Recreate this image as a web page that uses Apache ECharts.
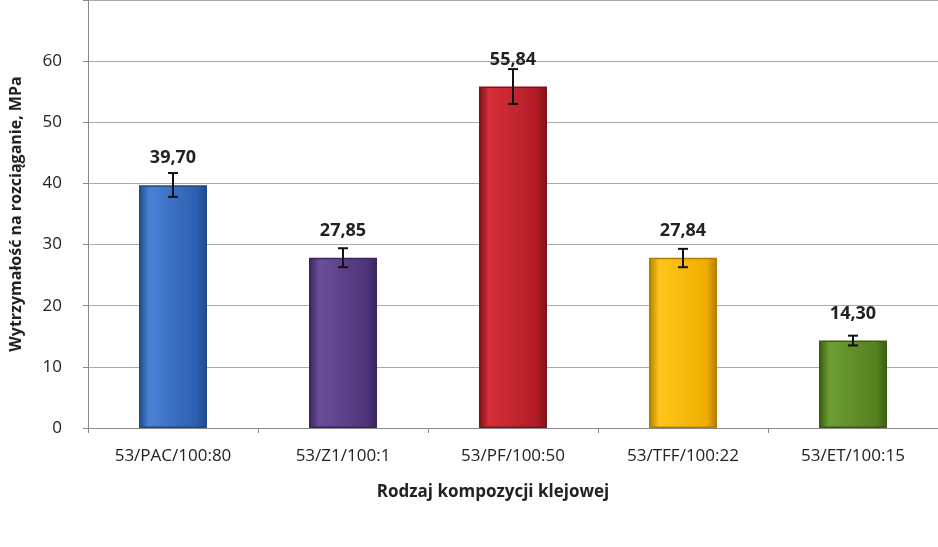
<!DOCTYPE html><html><head><meta charset="utf-8"><script src="https://cdn.jsdelivr.net/npm/echarts@6/dist/echarts.min.js"></script></head><body style="margin:0;background:#fff"><div id="c" style="width:938px;height:547px"></div><script>
const categories=['53/PAC/100:80','53/Z1/100:1','53/PF/100:50','53/TFF/100:22','53/ET/100:15'];
const values=[39.70,27.85,55.84,27.84,14.30];
const errLow=[37.8,26.3,53.0,26.3,13.5];
const errHigh=[41.7,29.4,58.7,29.3,15.1];
const colors=[['#4a82d6','#2c5fae','#1f4a8a'],['#6a4f9a','#4e3478','#3a2460'],['#d6303a','#b01c26','#80121a'],['#ffc61a','#f0ad00','#b07e00'],['#6e9d35','#54801f','#3a5c12']];
const chart=echarts.init(document.getElementById('c'));
chart.setOption({
 animation:false,
 grid:{left:85,right:-2,top:-14,bottom:119},
 xAxis:{type:'category',data:categories,axisLine:{lineStyle:{color:'#888'}},axisTick:{show:true,lineStyle:{color:'#888'}},
  axisLabel:{color:'#222',fontSize:17,fontFamily:'Open Sans',margin:20},
  name:'Rodzaj kompozycji klejowej',nameLocation:'middle',nameGap:56,nameTextStyle:{fontWeight:'bold',fontSize:17,color:'#222',fontFamily:'Open Sans',padding:[0,0,0,-40]}},
 yAxis:{type:'value',min:0,max:70,interval:10,axisLine:{show:true,lineStyle:{color:'#888'}},axisTick:{show:true,lineStyle:{color:'#888'}},
  splitLine:{lineStyle:{color:'#aaa'}},axisLabel:{color:'#222',fontSize:17,fontFamily:'Open Sans',margin:26,formatter:v=>v==70?'':v},
  name:'Wytrzymałość na rozciąganie, MPa',nameLocation:'middle',nameGap:64,nameTextStyle:{fontWeight:'bold',fontSize:16,color:'#222',fontFamily:'Open Sans'}},
 series:[{type:'bar',barWidth:68,data:values.map((v,i)=>({value:v,itemStyle:{borderColor:colors[i][2],borderWidth:1.5,color:{type:'linear',x:0,y:0,x2:1,y2:0,colorStops:[{offset:0,color:colors[i][2]},{offset:0.15,color:colors[i][0]},{offset:0.85,color:colors[i][1]},{offset:1,color:colors[i][2]}]}}})),
  label:{show:true,position:'top',distance:18,fontWeight:'bold',fontSize:18,color:'#222',fontFamily:'Open Sans',formatter:p=>p.value.toFixed(2).replace('.',',')}},
 {type:'custom',data:values.map((v,i)=>[i,errLow[i],errHigh[i]]),z:10,renderItem:(params,api)=>{
   const lo=api.coord([api.value(0),api.value(1)]),hi=api.coord([api.value(0),api.value(2)]);const w=5;
   const s={stroke:'#111',lineWidth:2};
   return {type:'group',children:[{type:'line',shape:{x1:lo[0],y1:lo[1],x2:hi[0],y2:hi[1]},style:s},{type:'line',shape:{x1:lo[0]-w,y1:lo[1],x2:lo[0]+w,y2:lo[1]},style:s},{type:'line',shape:{x1:hi[0]-w,y1:hi[1],x2:hi[0]+w,y2:hi[1]},style:s}]};
 }}]
});
</script></body></html>
